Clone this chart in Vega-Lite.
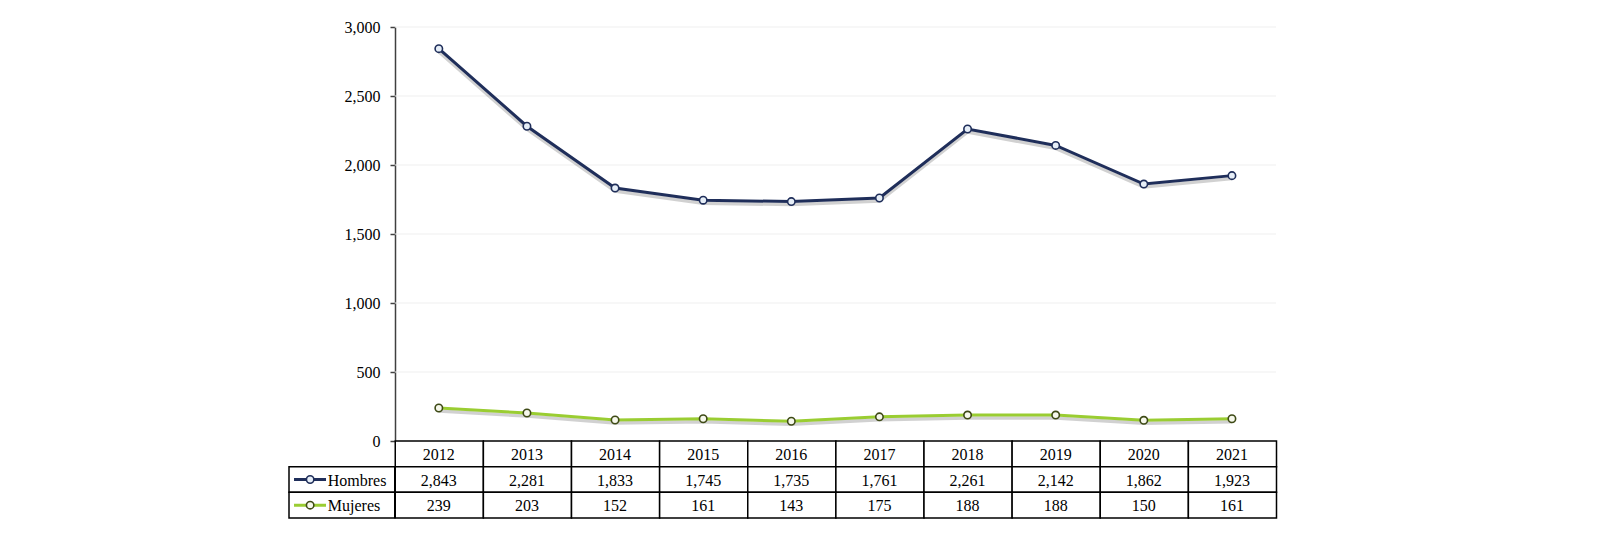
{
  "$schema": "https://vega.github.io/schema/vega-lite/v6.json",
  "background": "white",
  "padding": {"left": 288, "top": 19, "right": 0, "bottom": 0},
  "config": {"view": {"stroke": null}, "font": "Liberation Serif"},
  "spacing": 0,
  "bounds": "flush",
  "datasets": {
    "d": [
      {"year": 2012, "serie": "Hombres", "value": 2843},
      {"year": 2013, "serie": "Hombres", "value": 2281},
      {"year": 2014, "serie": "Hombres", "value": 1833},
      {"year": 2015, "serie": "Hombres", "value": 1745},
      {"year": 2016, "serie": "Hombres", "value": 1735},
      {"year": 2017, "serie": "Hombres", "value": 1761},
      {"year": 2018, "serie": "Hombres", "value": 2261},
      {"year": 2019, "serie": "Hombres", "value": 2142},
      {"year": 2020, "serie": "Hombres", "value": 1862},
      {"year": 2021, "serie": "Hombres", "value": 1923},
      {"year": 2012, "serie": "Mujeres", "value": 239},
      {"year": 2013, "serie": "Mujeres", "value": 203},
      {"year": 2014, "serie": "Mujeres", "value": 152},
      {"year": 2015, "serie": "Mujeres", "value": 161},
      {"year": 2016, "serie": "Mujeres", "value": 143},
      {"year": 2017, "serie": "Mujeres", "value": 175},
      {"year": 2018, "serie": "Mujeres", "value": 188},
      {"year": 2019, "serie": "Mujeres", "value": 188},
      {"year": 2020, "serie": "Mujeres", "value": 150},
      {"year": 2021, "serie": "Mujeres", "value": 161}
    ],
    "years": [
      {"year": 2012}, {"year": 2013}, {"year": 2014}, {"year": 2015}, {"year": 2016},
      {"year": 2017}, {"year": 2018}, {"year": 2019}, {"year": 2020}, {"year": 2021}
    ],
    "series": [{"serie": "Hombres"}, {"serie": "Mujeres"}],
    "grid": [{"v": 500}, {"v": 1000}, {"v": 1500}, {"v": 2000}, {"v": 2500}, {"v": 3000}]
  },
  "vconcat": [
    {
      "width": 987,
      "height": 414,
      "layer": [
        {
          "data": {"name": "grid"},
          "mark": {"type": "rule", "color": "#EFEFEF", "strokeWidth": 1},
          "encoding": {
            "x": {"datum": 2012, "type": "quantitative", "scale": {"domain": [2010.8, 2022], "nice": false, "zero": false}, "axis": null},
            "x2": {"datum": 2022},
            "y": {"field": "v", "type": "quantitative", "scale": {"domain": [0, 3000], "nice": false},
              "axis": {"values": [0, 500, 1000, 1500, 2000, 2500, 3000], "format": ",d", "offset": -106,
                "tickSize": 5, "tickColor": "#404040", "tickWidth": 1.5, "domainColor": "#404040", "domainWidth": 1.5,
                "labelFont": "Liberation Serif", "labelFontSize": 16, "labelColor": "#000000", "labelPadding": 10,
                "grid": false, "title": null}}
          }
        },
        {
          "data": {"name": "d"},
          "mark": {"type": "line", "strokeWidth": 3.5, "color": "#000000", "opacity": 0.18, "yOffset": 3},
          "encoding": {
            "x": {"field": "year", "type": "quantitative", "bin": {"step": 1, "extent": [2012, 2022]}},
            "y": {"field": "value", "type": "quantitative"},
            "detail": {"field": "serie"}
          }
        },
        {
          "data": {"name": "d"},
          "mark": {"type": "line", "strokeWidth": 3},
          "encoding": {
            "x": {"field": "year", "type": "quantitative", "bin": {"step": 1, "extent": [2012, 2022]}},
            "y": {"field": "value", "type": "quantitative"},
            "color": {"field": "serie", "type": "nominal", "scale": {"domain": ["Hombres", "Mujeres"], "range": ["#1F2E5A", "#9ACD32"]}, "legend": null}
          }
        },
        {
          "data": {"name": "d"},
          "mark": {"type": "point", "shape": "circle", "filled": true, "size": 55, "strokeWidth": 1.6, "opacity": 1},
          "encoding": {
            "x": {"field": "year", "type": "quantitative", "bin": {"step": 1, "extent": [2012, 2022]}},
            "y": {"field": "value", "type": "quantitative"},
            "fill": {"field": "serie", "type": "nominal", "scale": {"domain": ["Hombres", "Mujeres"], "range": ["#E6EEF7", "#F6F8EC"]}, "legend": null},
            "stroke": {"field": "serie", "type": "nominal", "scale": {"domain": ["Hombres", "Mujeres"], "range": ["#1F2E5A", "#3E4A16"]}, "legend": null}
          }
        }
      ]
    },
    {
      "width": 987,
      "height": 77,
      "layer": [
        {
          "data": {"name": "years"},
          "mark": {"type": "rect", "fill": "white", "stroke": "#000000", "strokeWidth": 1.5},
          "encoding": {
            "x": {"field": "year", "type": "quantitative", "bin": {"step": 1, "extent": [2012, 2022]}, "scale": {"domain": [2010.8, 2022], "nice": false, "zero": false}, "axis": null},
            "y": {"datum": "h", "type": "nominal", "scale": {"domain": ["h", "Hombres", "Mujeres"], "paddingInner": 0, "paddingOuter": 0}, "axis": null}
          }
        },
        {
          "data": {"name": "d"},
          "mark": {"type": "rect", "fill": "white", "stroke": "#000000", "strokeWidth": 1.5},
          "encoding": {
            "x": {"field": "year", "type": "quantitative", "bin": {"step": 1, "extent": [2012, 2022]}},
            "y": {"field": "serie", "type": "nominal"}
          }
        },
        {
          "data": {"name": "series"},
          "mark": {"type": "rect", "fill": "white", "stroke": "#000000", "strokeWidth": 1.5},
          "encoding": {
            "x": {"datum": 2010.8, "type": "quantitative"},
            "x2": {"datum": 2012},
            "y": {"field": "serie", "type": "nominal"}
          }
        },
        {
          "data": {"name": "years"},
          "mark": {"type": "text", "fontSize": 16, "font": "Liberation Serif", "color": "#000000", "baseline": "middle", "dy": 1},
          "encoding": {
            "x": {"field": "year", "type": "quantitative", "bin": {"step": 1, "extent": [2012, 2022]}},
            "y": {"datum": "h", "type": "nominal"},
            "text": {"field": "year", "type": "nominal"}
          }
        },
        {
          "data": {"name": "d"},
          "mark": {"type": "text", "fontSize": 16, "font": "Liberation Serif", "color": "#000000", "baseline": "middle", "dy": 1},
          "encoding": {
            "x": {"field": "year", "type": "quantitative", "bin": {"step": 1, "extent": [2012, 2022]}},
            "y": {"field": "serie", "type": "nominal"},
            "text": {"field": "value", "type": "quantitative", "format": ",d"}
          }
        },
        {
          "data": {"name": "series"},
          "mark": {"type": "rule", "strokeWidth": 3},
          "encoding": {
            "x": {"datum": 2010.857, "type": "quantitative"},
            "x2": {"datum": 2011.22},
            "y": {"field": "serie", "type": "nominal"},
            "color": {"field": "serie", "type": "nominal", "legend": null}
          }
        },
        {
          "data": {"name": "series"},
          "mark": {"type": "point", "shape": "circle", "filled": true, "size": 55, "strokeWidth": 1.6, "opacity": 1},
          "encoding": {
            "x": {"datum": 2011.04, "type": "quantitative"},
            "y": {"field": "serie", "type": "nominal"},
            "fill": {"field": "serie", "type": "nominal", "legend": null},
            "stroke": {"field": "serie", "type": "nominal", "legend": null}
          }
        },
        {
          "data": {"name": "series"},
          "mark": {"type": "text", "fontSize": 16, "font": "Liberation Serif", "color": "#000000", "align": "left", "baseline": "middle", "dy": 1},
          "encoding": {
            "x": {"datum": 2011.24, "type": "quantitative"},
            "y": {"field": "serie", "type": "nominal"},
            "text": {"field": "serie", "type": "nominal"}
          }
        }
      ]
    }
  ]
}
